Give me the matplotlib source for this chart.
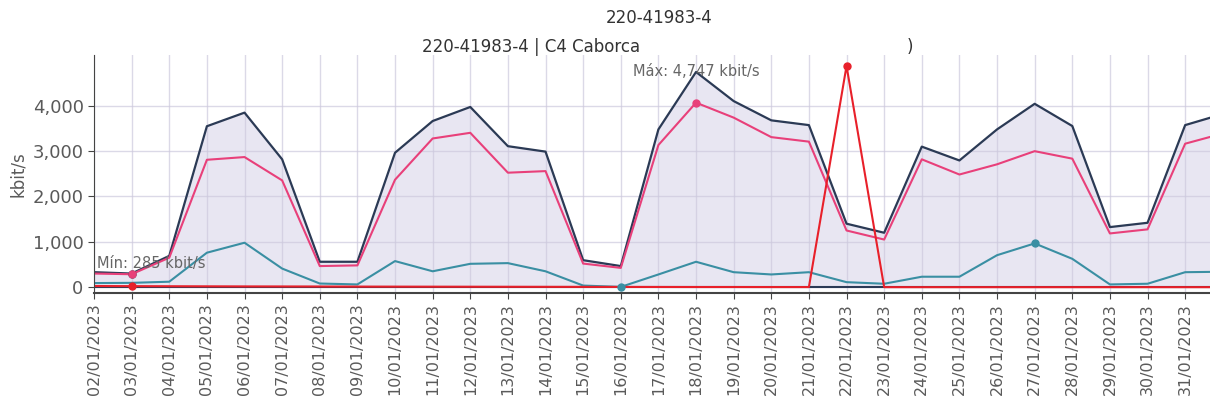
import numpy as np
import matplotlib
matplotlib.use("Agg")
import matplotlib.pyplot as plt

# fechas (eje x)
dias = ['02/01/2023', '03/01/2023', '04/01/2023', '05/01/2023', '06/01/2023',
        '07/01/2023', '08/01/2023', '09/01/2023', '10/01/2023', '11/01/2023',
        '12/01/2023', '13/01/2023', '14/01/2023', '15/01/2023', '16/01/2023',
        '17/01/2023', '18/01/2023', '19/01/2023', '20/01/2023', '21/01/2023',
        '22/01/2023', '23/01/2023', '24/01/2023', '25/01/2023', '26/01/2023',
        '27/01/2023', '28/01/2023', '29/01/2023', '30/01/2023', '31/01/2023',
        '01/02/2023']

# kbit/s
total = [330, 300, 690, 3550, 3850, 2820, 560, 560, 2965, 3665, 3975, 3110, 2990, 595, 465,
         3480, 4747, 4105, 3680, 3575, 1400, 1200, 3100, 2795, 3480, 4045, 3555, 1325, 1420,
         3575, 3820]
entrada = [300, 285, 650, 2810, 2870, 2355, 465, 480, 2370, 3280, 3405, 2525, 2560, 520, 425,
           3135, 4070, 3740, 3310, 3210, 1250, 1050, 2820, 2485, 2710, 3000, 2835, 1185, 1275,
           3165, 3390]
salida = [90, 95, 120, 760, 980, 410, 80, 60, 575, 350, 515, 530, 350, 35, 5,
          280, 560, 330, 280, 330, 110, 75, 230, 230, 705, 965, 625, 60, 75,
          330, 340]
errores = [25, 22, 20, 18, 16, 15, 14, 12, 11, 10, 9, 8, 7, 6, 5,
           4, 3, 3, 2, 2, 4880, 0, 0, 0, 0, 0, 0, 0, 0,
           0, 0]
cero = [0] * len(dias)

c_total = '#2b3a55'
c_in = '#e8407a'
c_out = '#3a8fa3'
c_err = '#e8202a'

x = np.arange(len(dias))

fig = plt.figure(figsize=(12.1, 4.11), dpi=100)
ax = fig.add_axes([0.0777, 0.287, 0.9223, 0.579])

ax.fill_between(x, total, 0, color='#e8e6f2', zorder=0.3, lw=0)
ax.plot(x, cero, color=c_total, lw=1.5, zorder=1.8)
ax.plot(x, salida, color=c_out, lw=1.5, zorder=2)
ax.plot(x, total, color=c_total, lw=1.6, zorder=2.1)
ax.plot(x, entrada, color=c_in, lw=1.5, zorder=2.2)
ax.plot(x, errores, color=c_err, lw=1.5, zorder=2.3)

# marcadores de min / max
ax.plot(1, total[1], 'o', color=c_total, ms=5, zorder=3)
ax.plot(1, entrada[1], 'o', color=c_in, ms=5, zorder=3)
ax.plot(1, errores[1], 'o', color=c_err, ms=5, zorder=3)
ax.plot(16, entrada[16], 'o', color=c_in, ms=5, zorder=3)
ax.plot(20, errores[20], 'o', color=c_err, ms=5, zorder=3)
ax.plot(14, salida[14], 'o', color=c_out, ms=5, zorder=3)
ax.plot(25, salida[25], 'o', color=c_out, ms=5, zorder=3)

ax.text(16, 4747, 'Máx: 4,747 kbit/s', ha='center', va='center', fontsize=10.5,
        color='#666666', zorder=4)
ax.text(0.08, 530, 'Mín: 285 kbit/s', ha='left', va='center', fontsize=10.5,
        color='#666666', zorder=4)

ax.set_xlim(0, 29.66)
ax.set_ylim(-130, 5120)
ax.set_xticks(x[:30])
ax.set_xticklabels(dias[:30], rotation=90, fontsize=11.5, color='#5a5a5a')
ax.set_yticks([0, 1000, 2000, 3000, 4000])
ax.set_yticklabels(['0', '1,000', '2,000', '3,000', '4,000'], fontsize=13, color='#5a5a5a')
ax.set_ylabel('kbit/s', fontsize=12, color='#5a5a5a', labelpad=4)

ax.set_axisbelow(True)
ax.grid(True, color='#cdc9dd', lw=1.0, alpha=0.7)
for s in ['top', 'right']:
    ax.spines[s].set_visible(False)
ax.spines['left'].set_color('#444444')
ax.spines['bottom'].set_color('#444444')
ax.spines['bottom'].set_linewidth(1.5)
ax.tick_params(axis='both', length=4, color='#444444')

fig.text(0.545, 0.955, '220-41983-4', ha='center', va='center', fontsize=12, color='#333333')
fig.text(0.349, 0.885, '220-41983-4 | C4 Caborca', ha='left', va='center', fontsize=12,
         color='#333333')
fig.text(0.752, 0.885, ')', ha='center', va='center', fontsize=12, color='#333333')

fig.savefig('out.png', dpi=100)
